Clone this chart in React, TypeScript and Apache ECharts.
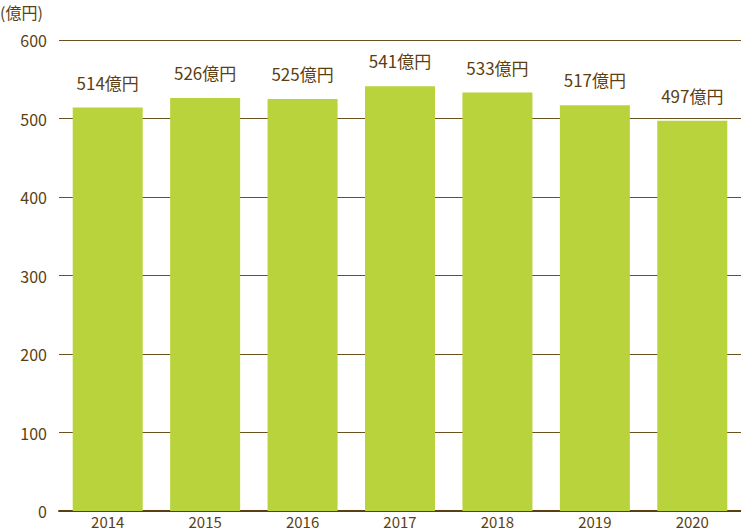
import React, { useEffect, useRef } from "react";
import * as echarts from "echarts";

const categories = ["2014", "2015", "2016", "2017", "2018", "2019", "2020"];
const values = [514, 526, 525, 541, 533, 517, 497];
const unitLabel = "(億円)";

const TEXT = "#5b3f12";
const FONT = "'Noto Sans CJK JP', 'Noto Sans', sans-serif";

export default function App() {
  const ref = useRef<HTMLDivElement>(null);
  useEffect(() => {
    const chart = echarts.init(ref.current!, null, { renderer: "svg" });
    chart.setOption({
      animation: false,
      textStyle: { fontFamily: FONT },
      graphic: [
        {
          type: "text",
          left: 0,
          top: 4,
          style: { text: unitLabel, fill: TEXT, font: `16px ${FONT}` },
        },
      ],
      grid: { left: 59, right: 0, top: 40, bottom: 20 },
      xAxis: {
        type: "category",
        data: categories,
        axisLine: { lineStyle: { color: "#5b3f12", width: 2 } },
        axisTick: { show: false },
        axisLabel: { color: TEXT, fontSize: 15, margin: 3, fontFamily: FONT },
      },
      yAxis: {
        type: "value",
        min: 0,
        max: 600,
        interval: 100,
        axisLine: { show: false },
        axisTick: { show: false },
        axisLabel: { color: TEXT, fontSize: 16, margin: 12, fontFamily: FONT },
        splitLine: { lineStyle: { color: "#6b5020", width: 1 } },
      },
      series: [
        {
          type: "bar",
          data: values,
          barWidth: 70,
          itemStyle: { color: "#b8d33c" },
          label: {
            show: true,
            position: "top",
            distance: 17,
            color: TEXT,
            fontSize: 17,
            fontFamily: FONT,
            formatter: (p: any) => `${p.value}億円`,
          },
        },
      ],
    });
    return () => chart.dispose();
  }, []);
  return <div ref={ref} style={{ width: 741, height: 531, position: "absolute", left: 0, top: 0 }} />;
}
